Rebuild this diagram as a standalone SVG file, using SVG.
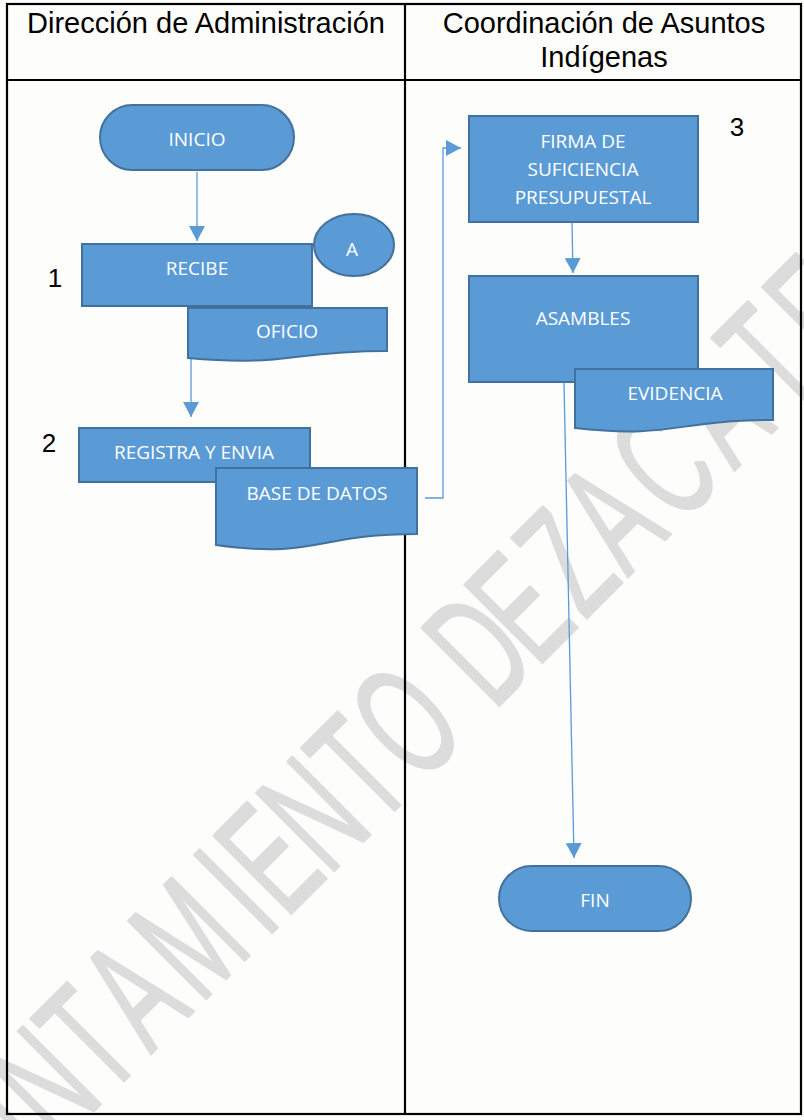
<svg xmlns="http://www.w3.org/2000/svg" width="804" height="1120" viewBox="0 0 804 1120">
<defs>
<style>
.hdr{font-family:"Liberation Sans",Arial,sans-serif;font-size:29px;fill:#000;text-anchor:middle}
.num{font-family:"Liberation Sans",Arial,sans-serif;font-size:26px;fill:#000;text-anchor:middle}
.shape{fill:#5b9bd5;stroke:#41719c;stroke-width:2}
.lbl{font-family:"Open Sans","Liberation Sans",sans-serif;font-size:19px;fill:#fff;text-anchor:middle;dominant-baseline:central}
.conn{fill:none;stroke:#5b9bd5;stroke-width:1.3}
.grid{fill:none;stroke:#000;stroke-width:2.2}
.wm{font-family:"Liberation Sans",Arial,sans-serif;font-size:160px;fill:#dcdcdc;stroke:#dcdcdc;stroke-width:2.5;stroke-linejoin:round}
</style>
<marker id="arr" viewBox="0 0 15 16" refX="15" refY="8" markerWidth="15" markerHeight="16" markerUnits="userSpaceOnUse" orient="auto">
<path d="M0,0 L15,8 L0,16 Z" fill="#5b9bd5"/>
</marker>
</defs>
<rect x="0" y="0" width="804" height="1120" fill="#fdfdfb"/>
<g id="watermark">
<text class="wm" transform="translate(0,1205) rotate(-45) scale(0.58,1)" x="-210 -95 20 144 260 367 489 648 697 801 920 1022 1100 1204 1309 1380 1425 1530 1655 1790 1920 2035 2155 2285 2405">AYUNTAMIENTO DE ZACATECAS</text>
</g>
<g id="table">
<rect class="grid" x="7" y="4" width="794" height="1110"/>
<line class="grid" x1="7" y1="80" x2="801" y2="80"/>
<line class="grid" x1="405" y1="4" x2="405" y2="1114"/>
<text class="hdr" x="206" y="33">Dirección de Administración</text>
<text class="hdr" x="604" y="33">Coordinación de Asuntos</text>
<text class="hdr" x="604" y="67">Indígenas</text>
</g>
<g id="labels">
<text class="num" x="55" y="287">1</text>
<text class="num" x="49" y="452">2</text>
<text class="num" x="737" y="136">3</text>
</g>
<g id="connectors">
<path class="conn" d="M197,172 V241" marker-end="url(#arr)"/>
<path class="conn" d="M191,358 V417" marker-end="url(#arr)"/>
<path class="conn" d="M425,498 H443 V148 H461" marker-end="url(#arr)"/>
<path class="conn" d="M572,222 L573,273" marker-end="url(#arr)"/>
<path class="conn" d="M564,383 L574,858" marker-end="url(#arr)"/>
</g>
<g id="inicio">
<rect class="shape" x="100" y="105" width="194" height="65" rx="32.5"/>
<text class="lbl" x="197" y="139">INICIO</text>
</g>
<g id="recibe">
<rect class="shape" x="82" y="244" width="230" height="62"/>
<text class="lbl" x="197" y="268">RECIBE</text>
</g>
<g id="conector-a">
<ellipse class="shape" cx="354" cy="245" rx="40" ry="31"/>
<text class="lbl" x="352" y="249">A</text>
</g>
<g id="oficio">
<path class="shape" d="M188,308 H387 V351 C287.5,351 287.5,367 188,358 Z"/>
<text class="lbl" x="287" y="331">OFICIO</text>
</g>
<g id="registra">
<rect class="shape" x="79" y="428" width="231" height="54"/>
<text class="lbl" x="194" y="452">REGISTRA Y ENVIA</text>
</g>
<g id="base-datos">
<path class="shape" d="M216,468 H417 V534 C316.5,534 316.5,559 216,545 Z"/>
<text class="lbl" x="317" y="493">BASE DE DATOS</text>
</g>
<g id="firma">
<rect class="shape" x="469" y="116" width="229" height="106"/>
<text class="lbl" x="583" y="141">FIRMA DE</text>
<text class="lbl" x="583" y="169">SUFICIENCIA</text>
<text class="lbl" x="583" y="197">PRESUPUESTAL</text>
</g>
<g id="asambles">
<rect class="shape" x="469" y="276" width="229" height="106"/>
<text class="lbl" x="583" y="318">ASAMBLES</text>
</g>
<g id="evidencia">
<path class="shape" d="M575,369 H773 V420 C674,420 674,439 575,428 Z"/>
<text class="lbl" x="675" y="393">EVIDENCIA</text>
</g>
<g id="fin">
<rect class="shape" x="499" y="866" width="192" height="65" rx="32.5"/>
<text class="lbl" x="595" y="900">FIN</text>
</g>
</svg>
